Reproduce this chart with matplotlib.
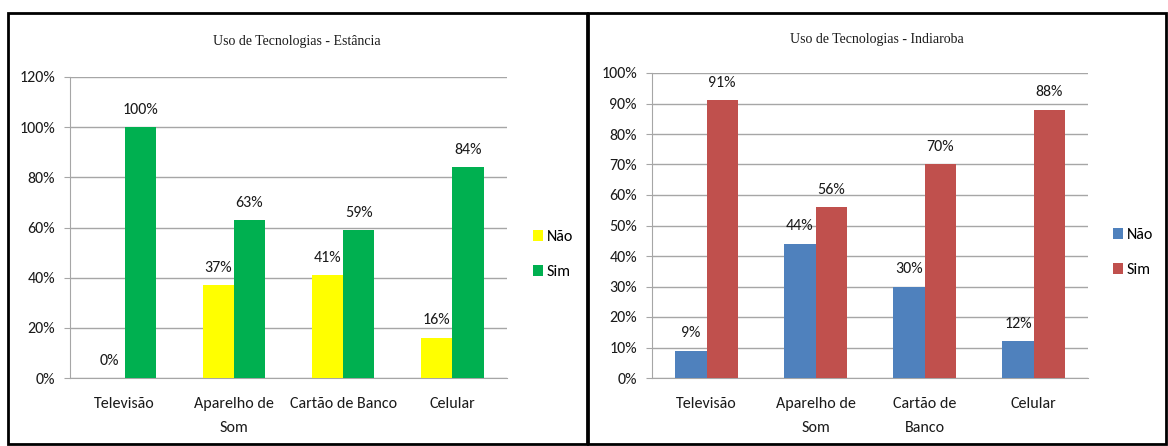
import matplotlib
matplotlib.use("Agg")
import matplotlib.pyplot as plt
from matplotlib.patches import Rectangle
import numpy as np

categories_left = ["Televisão", "Aparelho de\nSom", "Cartão de Banco", "Celular"]
categories_right = ["Televisão", "Aparelho de\nSom", "Cartão de\nBanco", "Celular"]
nao_left = [0, 37, 41, 16]
sim_left = [100, 63, 59, 84]
nao_right = [9, 44, 30, 12]
sim_right = [91, 56, 70, 88]
series_names = ["Não", "Sim"]
title_left = "Uso de Tecnologias - Estância"
title_right = "Uso de Tecnologias - Indiaroba"

plt.rcParams['font.family'] = ['Carlito', 'Liberation Sans', 'DejaVu Sans']

W, H = 1168, 446
FS = 11.5
TXT = '#1a1a1a'
GRID = '#a6a6a6'
fig = plt.figure(figsize=(W / 100, H / 100), dpi=100)

def fx(x):
    return x / W

def fy(y):
    return 1 - y / H

# panel borders
for (x0, x1) in [(8, 587), (588, 1166)]:
    fig.patches.append(Rectangle((fx(x0), fy(444)), fx(x1 - x0), (444 - 13) / H,
                                 transform=fig.transFigure, fill=False,
                                 edgecolor='black', linewidth=2))

def panel(ax_box, cats, nao, sim, colors, ymax, ystep, title, title_xy, leg_xy):
    x0, x1, ytop, ybot = ax_box
    ax = fig.add_axes([fx(x0), fy(ybot), fx(x1 - x0), (ybot - ytop) / H])
    n = len(cats)
    x = np.arange(n)
    w = 0.2857
    b1 = ax.bar(x - w / 2, nao, w, color=colors[0], label=series_names[0], zorder=3)
    b2 = ax.bar(x + w / 2, sim, w, color=colors[1], label=series_names[1], zorder=3)
    for bars, vals in [(b1, nao), (b2, sim)]:
        for r, v in zip(bars, vals):
            ax.annotate(f"{v}%", (r.get_x() + r.get_width() / 2, v),
                        xytext=(0, 7.5), textcoords='offset points',
                        ha='center', va='bottom', fontsize=FS, color=TXT)
    ax.set_xlim(-0.5, n - 0.5)
    ax.set_ylim(0, ymax)
    ticks = np.arange(0, ymax + 0.1, ystep)
    ax.set_yticks(ticks)
    ax.set_yticklabels([f"{int(t)}%" for t in ticks], fontsize=FS, color=TXT)
    ax.set_xticks(x)
    ax.set_xticklabels(cats, fontsize=FS, color=TXT, linespacing=1.85)
    ax.yaxis.grid(True, color=GRID, linewidth=1, zorder=0)
    for s in ['top', 'right']:
        ax.spines[s].set_visible(False)
    ax.spines['left'].set_color(GRID)
    ax.spines['bottom'].set_color(GRID)
    ax.tick_params(axis='y', length=4.3, color=GRID, pad=6.5)
    ax.tick_params(axis='x', length=0, pad=14)
    ax.set_facecolor('none')
    fig.text(fx(title_xy[0]), fy(title_xy[1]), title, ha='center', va='center',
             fontsize=10, family=['Liberation Serif', 'DejaVu Serif'], color=TXT)
    fig.legend(handles=[b1, b2], labels=series_names, loc='center left',
               bbox_to_anchor=(fx(leg_xy[0]), fy(leg_xy[1])),
               frameon=False, fontsize=FS, handlelength=0.6, handleheight=0.7,
               handletextpad=0.25, labelspacing=1.3, borderpad=0, borderaxespad=0)
    return ax

panel((70, 507, 77, 378), categories_left, nao_left, sim_left,
      ['#ffff00', '#00b050'], 120, 20, title_left, (297, 42), (533, 254.5))
panel((652, 1088, 73, 378), categories_right, nao_right, sim_right,
      ['#4f81bd', '#c0504d'], 100, 10, title_right, (877, 40), (1113, 252.5))

fig.savefig("out.png", dpi=100, facecolor='white')
